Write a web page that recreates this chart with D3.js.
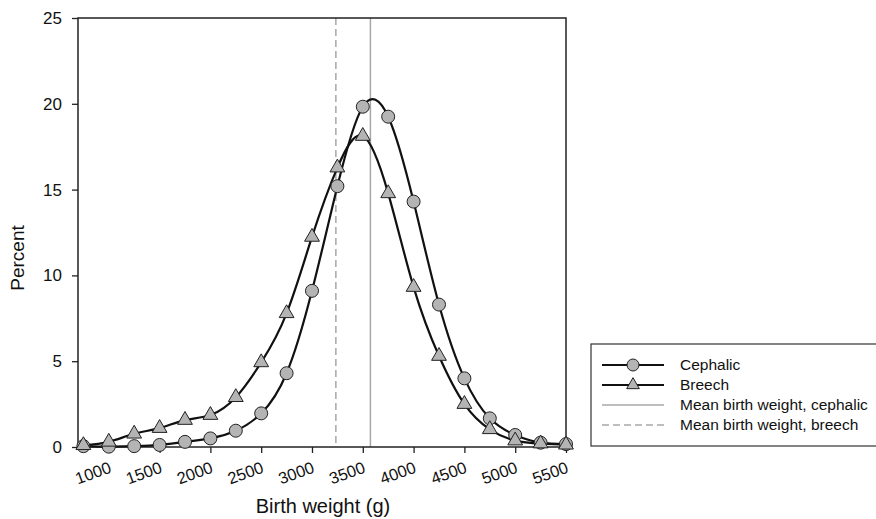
<!DOCTYPE html>
<html>
<head>
<meta charset="utf-8">
<script src="https://cdn.jsdelivr.net/npm/d3@7"></script>
<style>
  body { margin: 0; background: #fff; }
  text { font-family: "Liberation Sans", Arial, sans-serif; fill: #111; }
</style>
</head>
<body>
<div id="chart"></div>
<script>
const WEIGHTS = [750, 1000, 1250, 1500, 1750, 2000, 2250, 2500, 2750, 3000,
    3250, 3500, 3750, 4000, 4250, 4500, 4750, 5000, 5250, 5500];
const CEPHALIC = [0.05, 0.02, 0.05, 0.12, 0.3, 0.5, 0.95, 1.96, 4.3, 9.1,
    15.2, 19.83, 19.25, 14.3, 8.3, 4.0, 1.67, 0.7, 0.25, 0.17];
const BREECH = [0.1, 0.3, 0.77, 1.1, 1.57, 1.86, 2.9, 4.93, 7.79, 12.24,
    16.28, 18.12, 14.78, 9.32, 5.3, 2.5, 1.03, 0.37, 0.2, 0.13];
const MEAN_CEPHALIC = 3575;
const MEAN_BREECH = 3235;
const X_TICKS = [1000, 1500, 2000, 2500, 3000, 3500, 4000, 4500, 5000, 5500];
const Y_TICKS = [0, 5, 10, 15, 20, 25];
const LEGEND = ["Cephalic", "Breech", "Mean birth weight, cephalic", "Mean birth weight, breech"];

const width = 876, height = 519;
const margin = { top: 18, right: 310, bottom: 72, left: 78 };
const innerW = 566 - margin.left;
const innerH = 447 - margin.top;

const svg = d3.select("#chart").append("svg")
    .attr("width", width)
    .attr("height", height);

const g = svg.append("g")
    .attr("transform", `translate(${margin.left},${margin.top})`);

const x = d3.scaleLinear().domain([697, 5500]).range([0, innerW]);
const y = d3.scaleLinear().domain([0, 25]).range([innerH, 0]);

// mean lines
g.append("line")
    .attr("x1", x(MEAN_BREECH)).attr("x2", x(MEAN_BREECH))
    .attr("y1", 0).attr("y2", innerH)
    .attr("stroke", "#a8a8a8").attr("stroke-width", 1.5)
    .attr("stroke-dasharray", "7,4");
g.append("line")
    .attr("x1", x(MEAN_CEPHALIC)).attr("x2", x(MEAN_CEPHALIC))
    .attr("y1", 0).attr("y2", innerH)
    .attr("stroke", "#a8a8a8").attr("stroke-width", 1.5);

// frame
g.append("rect")
    .attr("width", innerW).attr("height", innerH)
    .attr("fill", "none").attr("stroke", "#222").attr("stroke-width", 1.5);

// axes
const xAxis = g.append("g")
    .attr("transform", `translate(0,${innerH})`)
    .call(d3.axisBottom(x).tickValues(X_TICKS).tickSize(6).tickFormat(d3.format("d")));
xAxis.select(".domain").remove();
xAxis.selectAll("line").attr("stroke", "#222").attr("stroke-width", 1.3);
xAxis.selectAll("text")
    .attr("text-anchor", "end")
    .attr("dy", 0)
    .attr("y", 0)
    .attr("transform", "translate(3,25) rotate(-20)")
    .style("font-size", "16.5px");

const yAxis = g.append("g")
    .call(d3.axisLeft(y).tickValues(Y_TICKS).tickSize(6).tickPadding(10));
yAxis.select(".domain").remove();
yAxis.selectAll("line").attr("stroke", "#222").attr("stroke-width", 1.3);
yAxis.selectAll("text").style("font-size", "17px");

svg.append("text")
    .attr("transform", `translate(24,${258}) rotate(-90)`)
    .attr("text-anchor", "middle")
    .style("font-size", "19px")
    .text("Percent");

svg.append("text")
    .attr("x", 323)
    .attr("y", 513)
    .attr("text-anchor", "middle")
    .style("font-size", "20px")
    .text("Birth weight (g)");

// curves
const line = d3.line()
    .x(d => x(d[0]))
    .y(d => y(d[1]))
    .curve(d3.curveNatural);

const cephPts = WEIGHTS.map((w, i) => [w, CEPHALIC[i]]);
const breechPts = WEIGHTS.map((w, i) => [w, BREECH[i]]);

g.append("path").attr("d", line(breechPts))
    .attr("fill", "none").attr("stroke", "#111").attr("stroke-width", 2.2);
g.append("path").attr("d", line(cephPts))
    .attr("fill", "none").attr("stroke", "#111").attr("stroke-width", 2.2);

const tri = d3.symbol().type(d3.symbolTriangle).size(95);

g.selectAll(".ceph").data(cephPts).enter().append("circle")
    .attr("class", "ceph")
    .attr("cx", d => x(d[0])).attr("cy", d => y(d[1]))
    .attr("r", 6.5)
    .attr("fill", "#b4b4b4").attr("stroke", "#222").attr("stroke-width", 1);

g.selectAll(".breech").data(breechPts).enter().append("path")
    .attr("class", "breech")
    .attr("d", tri)
    .attr("transform", d => `translate(${x(d[0])},${y(d[1])})`)
    .attr("fill", "#b4b4b4").attr("stroke", "#222").attr("stroke-width", 1);

// legend
const legend = svg.append("g").attr("transform", "translate(591,344)");
legend.append("rect")
    .attr("width", 300).attr("height", 102)
    .attr("fill", "#fff").attr("stroke", "#333").attr("stroke-width", 1.2);

const items = legend.selectAll(".legend-item")
    .data(LEGEND).enter().append("g")
    .attr("class", "legend-item")
    .attr("transform", (d, i) => `translate(0,${21 + i * 20})`);

items.append("line")
    .attr("x1", 11).attr("x2", 73)
    .attr("stroke", (d, i) => i < 2 ? "#111" : "#a8a8a8")
    .attr("stroke-width", (d, i) => i < 2 ? 2.2 : 1.5)
    .attr("stroke-dasharray", (d, i) => i === 3 ? "7,4" : null);

items.filter((d, i) => i === 0).append("circle")
    .attr("cx", 42).attr("r", 6)
    .attr("fill", "#b4b4b4").attr("stroke", "#222");
items.filter((d, i) => i === 1).append("path")
    .attr("d", d3.symbol().type(d3.symbolTriangle).size(70))
    .attr("transform", "translate(42,0)")
    .attr("fill", "#b4b4b4").attr("stroke", "#222");

items.append("text")
    .attr("x", 89).attr("y", 0).attr("dy", "0.35em")
    .style("font-size", "15.5px")
    .text(d => d);
</script>
</body>
</html>
